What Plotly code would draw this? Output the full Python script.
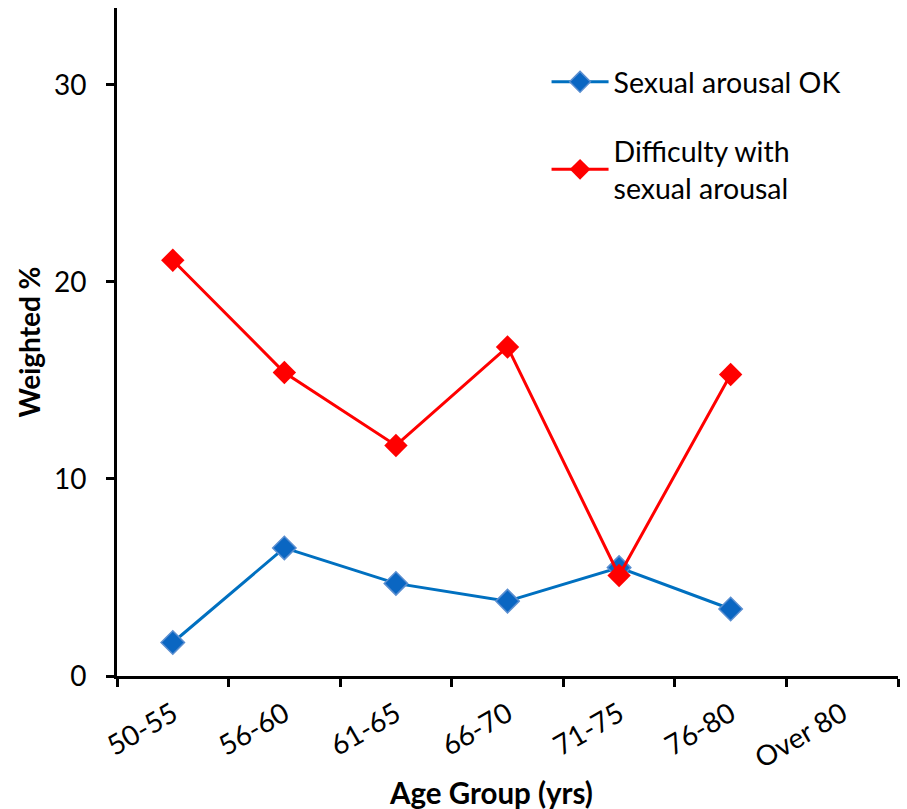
import plotly.graph_objects as go

categories = ["50-55", "56-60", "61-65", "66-70", "71-75", "76-80", "Over 80"]
ok_vals = [1.7, 6.5, 4.7, 3.8, 5.5, 3.4, None]
diff_vals = [21.1, 15.4, 11.7, 16.7, 5.1, 15.3, None]
x_title = "Age Group (yrs)"
y_title = "Weighted %"

FONT = "Lato"
fig = go.Figure()
fig.add_trace(go.Scatter(
    x=categories, y=ok_vals, mode="lines+markers", name="Sexual arousal OK",
    legendgroup="a",
    line=dict(color="#0070C0", width=3),
    marker=dict(symbol="diamond", size=18, color="#0A66C2", line=dict(color="#5A8ED0", width=1.5)),
))
fig.add_trace(go.Scatter(
    x=categories, y=diff_vals, mode="lines+markers", name="Difficulty with<br>sexual arousal",
    legendgroup="b",
    line=dict(color="#FF0000", width=3),
    marker=dict(symbol="diamond", size=18, color="#FF0000"),
))

fig.update_layout(
    width=907, height=809,
    margin=dict(l=117, r=9, t=8, b=133),
    paper_bgcolor="white", plot_bgcolor="white",
    font=dict(family=FONT, size=28, color="black"),
    showlegend=True,
    legend=dict(x=0.55, y=0.927, xanchor="left", yanchor="top",
                bgcolor="rgba(0,0,0,0)", itemwidth=57, tracegroupgap=29,
                traceorder="grouped", font=dict(size=28.5)),
    xaxis=dict(
        type="category", range=[-0.5, 6.5], tickson="boundaries",
        showline=True, linecolor="black", linewidth=3,
        ticks="outside", ticklen=8, tickwidth=3, tickcolor="black",
        tickangle=-30, showgrid=False, zeroline=False,
        tickfont=dict(size=28), ticklabelstandoff=8,
    ),
    yaxis=dict(
        range=[0, 33.9], tickvals=[0, 10, 20, 30],
        showline=True, linecolor="black", linewidth=3,
        ticks="outside", ticklen=8, tickwidth=3, tickcolor="black",
        showgrid=False, zeroline=False,
        tickfont=dict(size=28), ticklabelstandoff=14,
        title=dict(text="<b>" + y_title + "</b>", font=dict(size=28), standoff=6),
    ),
    annotations=[dict(
        text="<b>" + x_title + "</b>", xref="paper", yref="paper",
        x=0.479, y=-0.174, xanchor="center", yanchor="middle",
        showarrow=False, font=dict(size=29.5),
    )],
)
fig.write_html("out.html")
